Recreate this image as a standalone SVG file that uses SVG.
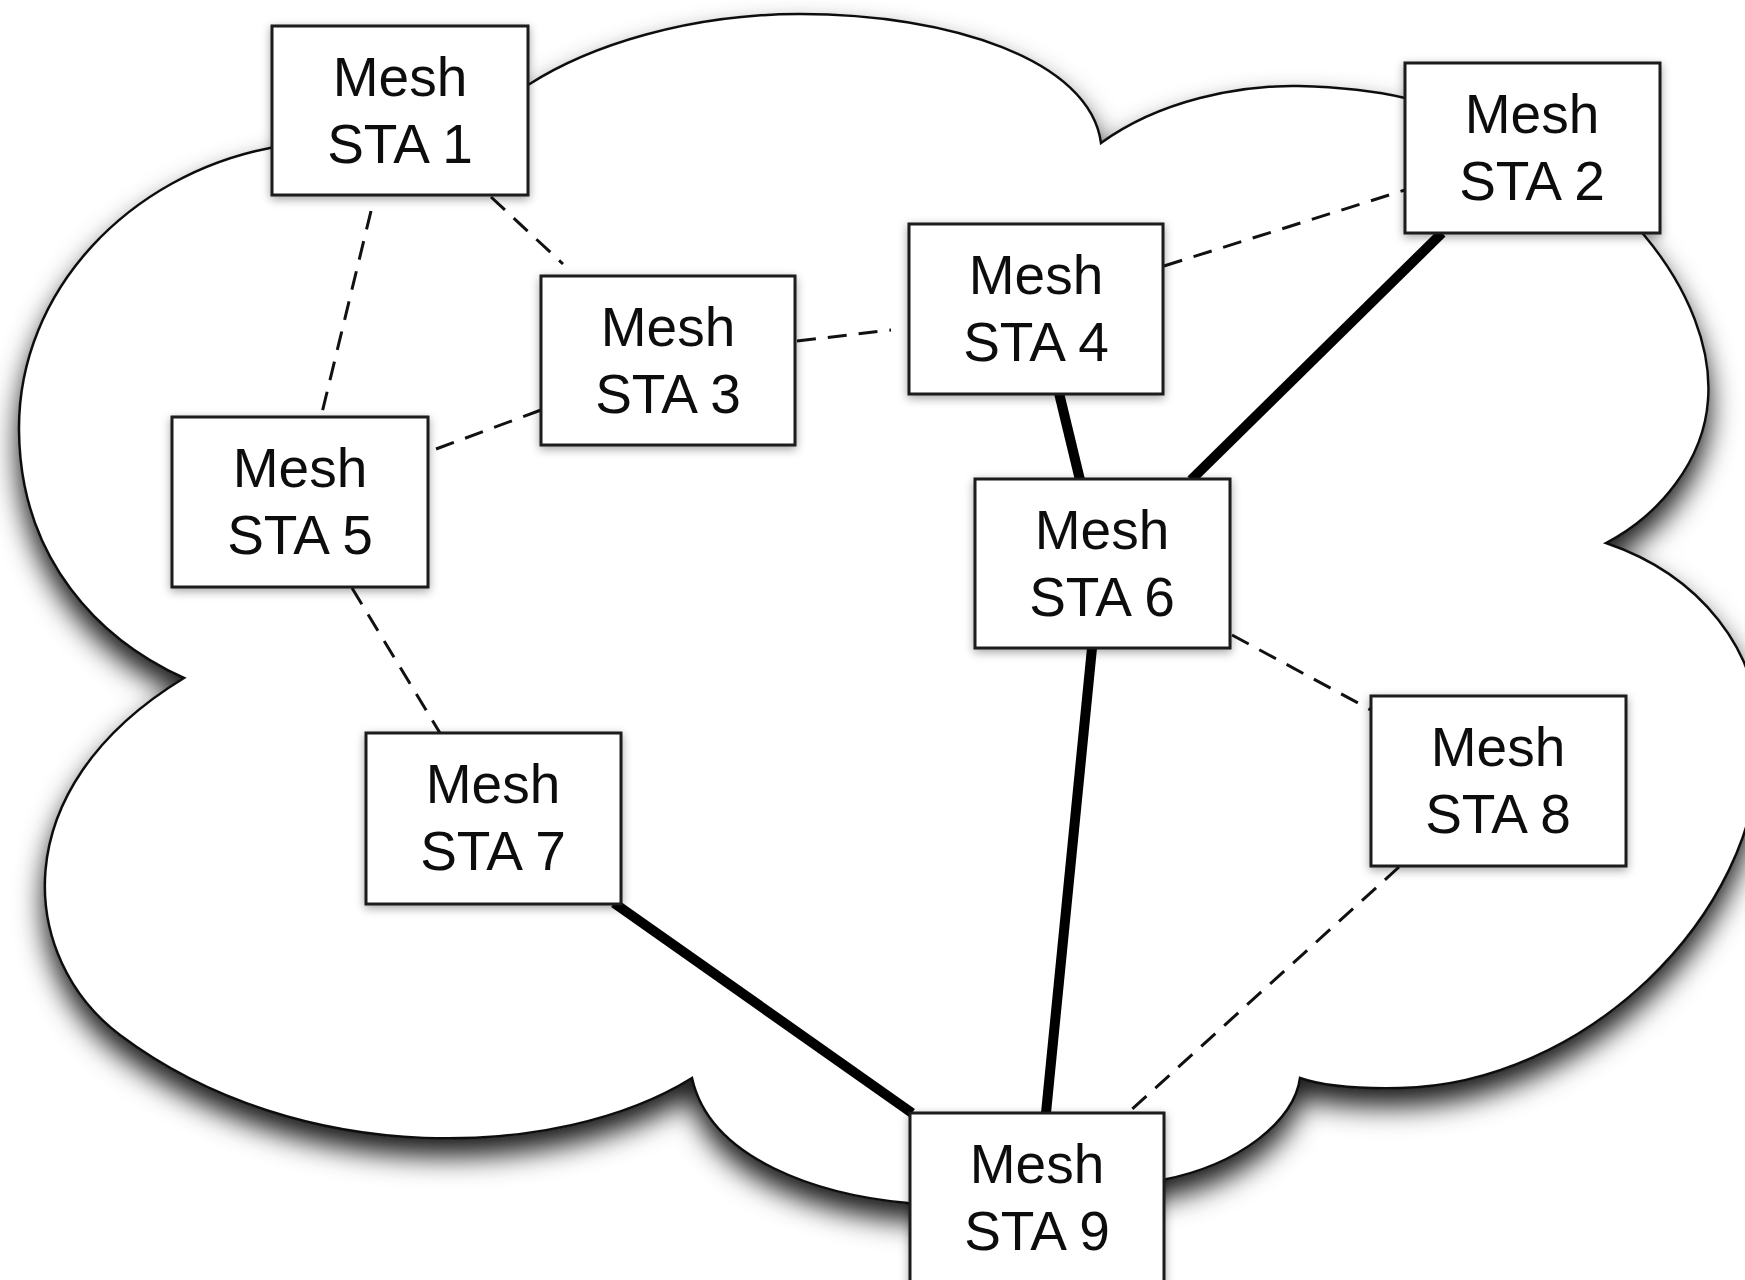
<svg xmlns="http://www.w3.org/2000/svg" width="1745" height="1280" viewBox="0 0 1745 1280">
<defs>
<style>
.box{fill:#fff;stroke:#1a1a1a;stroke-width:3}
.lbl{font-family:"Liberation Sans",Arial,sans-serif;font-size:55px;fill:#111;text-anchor:middle}
.dash{stroke:#111;stroke-width:3;stroke-dasharray:19 12;fill:none}
.solid{stroke:#000;stroke-width:10;fill:none;stroke-linecap:butt}
</style>
<filter id="cloudShadow" x="-10%" y="-10%" width="120%" height="130%">
<feDropShadow dx="0" dy="17" stdDeviation="14" flood-color="#000" flood-opacity="0.9"/>
</filter>
<filter id="boxShadow" x="-10%" y="-10%" width="120%" height="130%">
<feDropShadow dx="0" dy="3" stdDeviation="5" flood-color="#000" flood-opacity="0.35"/>
</filter>
</defs>
<rect width="1745" height="1280" fill="#fff"/>
<g id="cloud">
<path filter="url(#cloudShadow)" fill="#fff" stroke="#111" stroke-width="2.5" stroke-linejoin="miter" d="M184,678 C100,640 20,560 19,430 C18,290 130,175 270,148 C350,120 450,95 528,85 C590,45 690,14 800,14 C950,14 1090,60 1101,143 C1160,100 1240,85 1298,86 C1340,87 1380,92 1405,98 C1500,110 1600,170 1644,235 C1690,290 1712,350 1708,400 C1704,460 1660,515 1606,543 C1700,575 1760,650 1760,740 C1760,920 1580,1085 1400,1088 C1350,1089 1320,1085 1300,1078 C1295,1120 1240,1165 1162,1180 C1100,1195 980,1205 908,1203 C820,1195 710,1160 692,1078 C560,1160 300,1170 120,1035 C20,960 0,790 184,678 Z"/>
</g>
<g id="connectors">
<line class="dash" x1="371" y1="211" x2="321" y2="417"/>
<line class="dash" x1="491" y1="197" x2="563" y2="264"/>
<line class="dash" x1="541" y1="410" x2="428" y2="452"/>
<line class="dash" x1="797" y1="341" x2="891" y2="330"/>
<line class="dash" x1="1164" y1="266" x2="1405" y2="190"/>
<line class="dash" x1="352" y1="588" x2="440" y2="733"/>
<line class="dash" x1="1232" y1="635" x2="1371" y2="710"/>
<line class="dash" x1="1399" y1="867" x2="1130" y2="1111"/>
<line class="solid" x1="1059" y1="393" x2="1080" y2="480"/>
<line class="solid" x1="1442" y1="233" x2="1191" y2="480"/>
<line class="solid" x1="1092" y1="648" x2="1046" y2="1113"/>
<line class="solid" x1="614" y1="903" x2="912" y2="1113"/>
</g>
<g id="sta1" filter="url(#boxShadow)"><rect class="box" x="272" y="26" width="256" height="169"/><text class="lbl" x="400" y="96">Mesh</text><text class="lbl" x="400" y="163">STA 1</text></g>
<g id="sta2" filter="url(#boxShadow)"><rect class="box" x="1405" y="63" width="255" height="170"/><text class="lbl" x="1532" y="133">Mesh</text><text class="lbl" x="1532" y="200">STA 2</text></g>
<g id="sta3" filter="url(#boxShadow)"><rect class="box" x="541" y="276" width="254" height="169"/><text class="lbl" x="668" y="346">Mesh</text><text class="lbl" x="668" y="413">STA 3</text></g>
<g id="sta4" filter="url(#boxShadow)"><rect class="box" x="909" y="224" width="254" height="170"/><text class="lbl" x="1036" y="294">Mesh</text><text class="lbl" x="1036" y="361">STA 4</text></g>
<g id="sta5" filter="url(#boxShadow)"><rect class="box" x="172" y="417" width="256" height="170"/><text class="lbl" x="300" y="487">Mesh</text><text class="lbl" x="300" y="554">STA 5</text></g>
<g id="sta6" filter="url(#boxShadow)"><rect class="box" x="975" y="479" width="255" height="169"/><text class="lbl" x="1102" y="549">Mesh</text><text class="lbl" x="1102" y="616">STA 6</text></g>
<g id="sta7" filter="url(#boxShadow)"><rect class="box" x="366" y="733" width="255" height="171"/><text class="lbl" x="493" y="803">Mesh</text><text class="lbl" x="493" y="870">STA 7</text></g>
<g id="sta8" filter="url(#boxShadow)"><rect class="box" x="1371" y="696" width="255" height="170"/><text class="lbl" x="1498" y="766">Mesh</text><text class="lbl" x="1498" y="833">STA 8</text></g>
<g id="sta9" filter="url(#boxShadow)"><rect class="box" x="910" y="1113" width="254" height="172"/><text class="lbl" x="1037" y="1183">Mesh</text><text class="lbl" x="1037" y="1250">STA 9</text></g>
</svg>
